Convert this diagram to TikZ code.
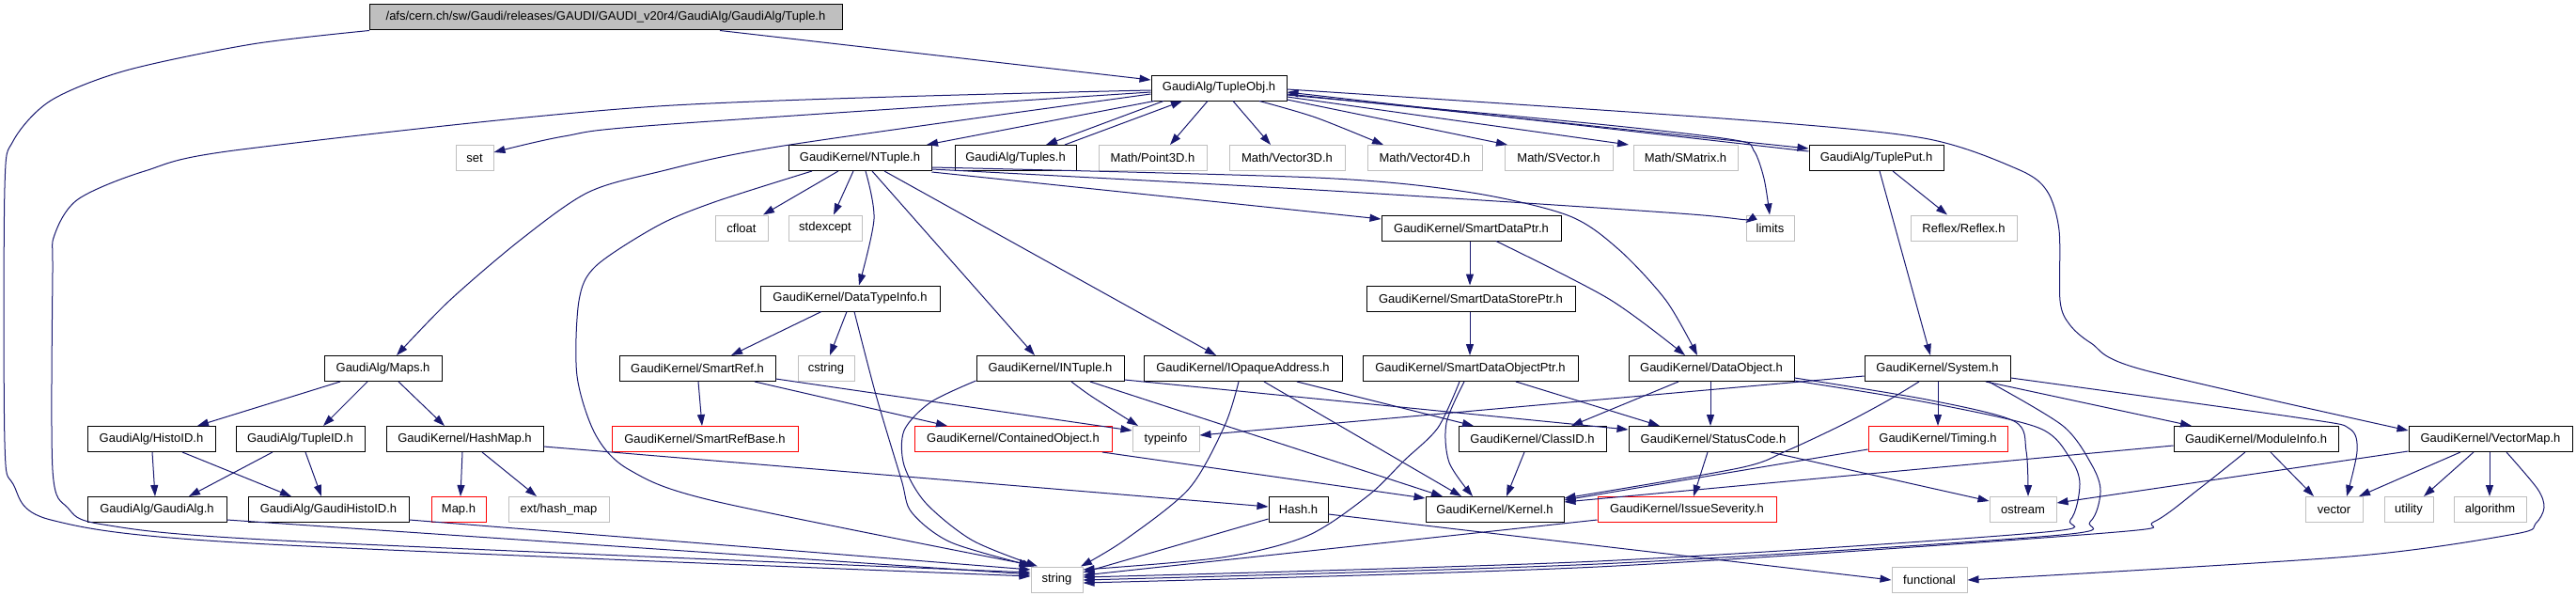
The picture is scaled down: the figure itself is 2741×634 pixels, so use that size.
\documentclass[tikz,border=0pt]{standalone}
\usepackage{fontspec}
\setmainfont{Liberation Sans}
\usetikzlibrary{arrows.meta}
\definecolor{edgec}{RGB}{25,25,112}
\definecolor{grayb}{RGB}{191,191,191}
\definecolor{redb}{RGB}{255,0,0}
\tikzset{
  nb/.style={draw=black, line width=1pt, fill=white, inner sep=0pt, minimum height=27pt, font=\fontsize{13}{15}\selectfont},
  ng/.style={nb, draw=grayb},
  nr/.style={nb, draw=redb},
  root/.style={nb, fill=grayb},
  e/.style={draw=edgec, line width=1pt, -{Triangle[length=12pt,width=8pt]}},
  sm/.style={smooth, tension=0.5}
}
\begin{document}
\begin{tikzpicture}[x=1pt,y=-1pt]
\fill[white] (0,0) rectangle (2741,634);
\useasboundingbox (0,0) rectangle (2741,634);
% row 0
\node[root, minimum width=503pt] (tuple) at (644.5,18.5) {/afs/cern.ch/sw/Gaudi/releases/GAUDI/GAUDI\_v20r4/GaudiAlg/GaudiAlg/Tuple.h};
% row 1
\node[nb, minimum width=144pt] (tupleobj) at (1297,93.5) {GaudiAlg/TupleObj.h};
% row 2
\node[ng, minimum width=40pt] (set) at (505,168) {set};
\node[nb, minimum width=152pt] (ntuple) at (915,168) {GaudiKernel/NTuple.h};
\node[nb, minimum width=129pt] (tuples) at (1080.5,168) {GaudiAlg/Tuples.h};
\node[ng, minimum width=115pt] (point3d) at (1226.5,168) {Math/Point3D.h};
\node[ng, minimum width=123pt] (vector3d) at (1369.5,168) {Math/Vector3D.h};
\node[ng, minimum width=122pt] (vector4d) at (1516,168) {Math/Vector4D.h};
\node[ng, minimum width=115pt] (svector) at (1658.5,168) {Math/SVector.h};
\node[ng, minimum width=111pt] (smatrix) at (1793.5,168) {Math/SMatrix.h};
\node[nb, minimum width=143pt] (tupleput) at (1996.5,168) {GaudiAlg/TuplePut.h};
% row 3
\node[ng, minimum width=56pt] (cfloat) at (789,242.5) {cfloat};
\node[ng, minimum width=78pt] (stdexcept) at (878,242.5) {stdexcept};
\node[nb, minimum width=191pt] (smartdataptr) at (1565.5,242.5) {GaudiKernel/SmartDataPtr.h};
\node[ng, minimum width=51pt] (limits) at (1883.5,242.5) {limits};
\node[ng, minimum width=113pt] (reflex) at (2089.5,242.5) {Reflex/Reflex.h};
% row 4
\node[nb, minimum width=191pt] (datatypeinfo) at (904.5,317.5) {GaudiKernel/DataTypeInfo.h};
\node[nb, minimum width=222pt] (smartdatastoreptr) at (1565,317.5) {GaudiKernel/SmartDataStorePtr.h};
% row 5
\node[nb, minimum width=125pt] (maps) at (407.5,392) {GaudiAlg/Maps.h};
\node[nb, minimum width=166pt] (smartref) at (742,392) {GaudiKernel/SmartRef.h};
\node[ng, minimum width=60pt] (cstring) at (879,392) {cstring};
\node[nb, minimum width=157pt] (intuple) at (1117.5,392) {GaudiKernel/INTuple.h};
\node[nb, minimum width=211pt] (iopaque) at (1322.5,392) {GaudiKernel/IOpaqueAddress.h};
\node[nb, minimum width=229pt] (smartdataobjptr) at (1564.5,392) {GaudiKernel/SmartDataObjectPtr.h};
\node[nb, minimum width=176pt] (dataobject) at (1821,392) {GaudiKernel/DataObject.h};
\node[nb, minimum width=155pt] (system) at (2061.5,392) {GaudiKernel/System.h};
% row 6
\node[nb, minimum width=136pt] (histoid) at (161,467) {GaudiAlg/HistoID.h};
\node[nb, minimum width=137pt] (tupleid) at (319.5,467) {GaudiAlg/TupleID.h};
\node[nb, minimum width=167pt] (hashmap) at (494.5,467) {GaudiKernel/HashMap.h};
\node[nr, minimum width=198pt] (smartrefbase) at (750,467) {GaudiKernel/SmartRefBase.h};
\node[nr, minimum width=210pt] (contained) at (1078,467) {GaudiKernel/ContainedObject.h};
\node[ng, minimum width=71pt] (typeinfo) at (1240.5,467) {typeinfo};
\node[nb, minimum width=157pt] (classid) at (1630.5,467) {GaudiKernel/ClassID.h};
\node[nb, minimum width=180pt] (statuscode) at (1823,467) {GaudiKernel/StatusCode.h};
\node[nr, minimum width=148pt] (timing) at (2062,467) {GaudiKernel/Timing.h};
\node[nb, minimum width=175pt] (moduleinfo) at (2400.5,467) {GaudiKernel/ModuleInfo.h};
\node[nb, minimum width=174pt] (vectormap) at (2650,467) {GaudiKernel/VectorMap.h};
% row 7
\node[nb, minimum width=148pt] (gaudialg) at (167,542) {GaudiAlg/GaudiAlg.h};
\node[nb, minimum width=171pt] (gaudihistoid) at (349.5,542) {GaudiAlg/GaudiHistoID.h};
\node[nr, minimum width=58pt] (map) at (488,542) {Map.h};
\node[ng, minimum width=107pt] (hashext) at (594.5,542) {ext/hash\_map};
\node[nb, minimum width=63pt] (hash) at (1381.5,542) {Hash.h};
\node[nb, minimum width=147pt] (kernel) at (1590.5,542) {GaudiKernel/Kernel.h};
\node[nr, minimum width=190pt] (issue) at (1795,542) {GaudiKernel/IssueSeverity.h};
\node[ng, minimum width=71pt] (ostream) at (2152.5,542) {ostream};
\node[ng, minimum width=61pt] (vector) at (2483.5,542) {vector};
\node[ng, minimum width=52pt] (utility) at (2563,542) {utility};
\node[ng, minimum width=77pt] (algorithm) at (2649.5,542) {algorithm};
% row 8
\node[ng, minimum width=55pt] (string) at (1124.5,616.5) {string};
\node[ng, minimum width=80pt] (functional) at (2053,616.5) {functional};

% ---------- edges ----------
\draw[e] (tuple.south -| 766,0) -- (tupleobj.west |- 0,85);
\draw[e] plot[sm] coordinates {(tuple.south -| 393,0) (268,47) (134,75) (54,107) (14,150) (5,200) (5,470) (14,515) (54,553) (268,578) (string.west |- 0,613)};
\draw[e] plot[sm] coordinates {(tupleobj.west |- 0,96) (700,113) (257,159) (154,182) (83,212) (58,250) (56,290) (56,500) (72,540) (110,558) (300,575) (string.west |- 0,609)};
\draw[e] plot[sm] coordinates {(tupleobj.west |- 0,98) (700,133) (600,145) (set.east |- 0,162)};
\draw[e] plot[sm] coordinates {(tupleobj.west |- 0,100) (834,155) (700,183) (625,205) (554,255) (478,320) (maps.north -| 422,0)};
\draw[e] (tupleobj.south -| 1228,0) -- (ntuple.north -| 986,0);
\draw[e] (tupleobj.south -| 1238,0) -- (tuples.north -| 1113,0);
\draw[e] (tuples.north -| 1133,0) -- (tupleobj.south -| 1258,0);
\draw[e] (tupleobj.south -| 1285,0) -- (point3d.north -| 1245,0);
\draw[e] (tupleobj.south -| 1312,0) -- (vector3d.north -| 1352,0);
\draw[e] plot[sm] coordinates {(tupleobj.south -| 1340,0) (1400,125) (vector4d.north -| 1472,0)};
\draw[e] (tupleobj.east |- 0,106) -- (svector.north -| 1604,0);
\draw[e] (tupleobj.east |- 0,103) -- (smatrix.north -| 1733,0);
\draw[e] (tupleobj.east |- 0,100) -- (tupleput.west |- 0,158);
\draw[e] (tupleput.west |- 0,161) -- (tupleobj.east |- 0,98);
\draw[e] plot[sm] coordinates {(tupleobj.east |- 0,101) (1700,132) (1846,149) (1866,160) (1877,190) (limits.north -| 1883,0)};
\draw[e] plot[sm] coordinates {(tupleobj.east |- 0,95) (1846,127) (2047,147) (2147,180) (2178,203) (2191,245) (2192,320) (2202,345) (2225,365) (2279,393) (vectormap.west |- 0,458)};
% NTuple
\draw[e] (ntuple.south -| 892,0) -- (cfloat.north -| 812,0);
\draw[e] (ntuple.south -| 908,0) -- (stdexcept.north -| 887,0);
\draw[e] plot[sm] coordinates {(ntuple.south -| 921,0) (930,233) (datatypeinfo.north -| 914,0)};
\draw[e] (ntuple.south -| 928,0) -- (intuple.north -| 1101,0);
\draw[e] (ntuple.south -| 941,0) -- (iopaque.north -| 1294,0);
\draw[e] (ntuple.east |- 0,183) -- (smartdataptr.west |- 0,233);
\draw[e] plot[sm] coordinates {(ntuple.east |- 0,180) (1400,202) (1800,228) (limits.west |- 0,237)};
\draw[e] plot[sm] coordinates {(ntuple.east |- 0,178) (1400,189) (1560,204) (1668,229) (1722,265) (1773,320) (dataobject.north -| 1806,0)};
\draw[e] plot[sm] coordinates {(ntuple.south -| 864,0) (760,215) (700,240) (634,283) (616,320) (614,400) (634,463) (670,500) (760,533) (string.west |- 0,601)};
% SmartData chain
\draw[e] (smartdataptr.south -| 1564,0) -- (smartdatastoreptr.north -| 1564,0);
\draw[e] plot[sm] coordinates {(smartdataptr.south -| 1592,0) (1712,318) (dataobject.north -| 1793,0)};
\draw[e] (smartdatastoreptr.south -| 1564,0) -- (smartdataobjptr.north -| 1564,0);
% TuplePut
\draw[e] (tupleput.south -| 2014,0) -- (reflex.north -| 2072,0);
\draw[e] plot[sm] coordinates {(tupleput.south -| 2000,0) (2038,320) (system.north -| 2054,0)};
% DataTypeInfo
\draw[e] (datatypeinfo.south -| 874,0) -- (smartref.north -| 778,0);
\draw[e] (datatypeinfo.south -| 901,0) -- (cstring.north -| 883,0);
\draw[e] plot[sm] coordinates {(datatypeinfo.south -| 909,0) (932,420) (959,510) (970,545) (1012,577) (string.north -| 1100,0)};
% Maps
\draw[e] (maps.south -| 362,0) -- (histoid.north -| 210,0);
\draw[e] (maps.south -| 391,0) -- (tupleid.north -| 344,0);
\draw[e] (maps.south -| 424,0) -- (hashmap.north -| 473,0);
\draw[e] (histoid.south -| 162,0) -- (gaudialg.north -| 165,0);
\draw[e] (histoid.south -| 194,0) -- (gaudihistoid.north -| 310,0);
\draw[e] (tupleid.south -| 290,0) -- (gaudialg.north -| 201,0);
\draw[e] (tupleid.south -| 325,0) -- (gaudihistoid.north -| 342,0);
\draw[e] (hashmap.south -| 492,0) -- (map.north -| 490,0);
\draw[e] (hashmap.south -| 513,0) -- (hashext.north -| 571,0);
\draw[e] (hashmap.east |- 0,475) -- (hash.west |- 0,539);
\draw[e] (gaudialg.east |- 0,553) -- (string.west |- 0,611);
\draw[e] (gaudihistoid.east |- 0,553) -- (string.west |- 0,606);
% SmartRef
\draw[e] (smartref.south -| 743,0) -- (smartrefbase.north -| 747,0);
\draw[e] (smartref.south -| 803,0) -- (contained.north -| 1008,0);
\draw[e] (smartref.east |- 0,403) -- (typeinfo.west |- 0,458);
% INTuple
\draw[e] plot[sm] coordinates {(intuple.west |- 0,405) (990,428) (962,458) (962,495) (985,535) (1035,575) (string.north -| 1104,0)};
\draw[e] plot[sm] coordinates {(intuple.south -| 1140,0) (1162,422) (typeinfo.north -| 1211,0)};
\draw[e] (intuple.south -| 1160,0) -- (kernel.north -| 1535,0);
\draw[e] (intuple.east |- 0,404) -- (statuscode.west |- 0,457);
% IOpaqueAddress
\draw[e] plot[sm] coordinates {(iopaque.south -| 1318,0) (1303,453) (1265,520) (1196,575) (string.north -| 1150,0)};
\draw[e] (iopaque.south -| 1345,0) -- (kernel.north -| 1555,0);
\draw[e] (iopaque.south -| 1380,0) -- (classid.north -| 1568,0);
% SmartDataObjectPtr
\draw[e] plot[sm] coordinates {(smartdataobjptr.south -| 1558,0) (1539,450) (1542,492) (kernel.north -| 1567,0)};
\draw[e] plot[sm] coordinates {(smartdataobjptr.south -| 1553,0) (1530,455) (1494,490) (1456,527) (1391,570) (1300,593) (string.east |- 0,606)};
\draw[e] (smartdataobjptr.south -| 1613,0) -- (statuscode.north -| 1766,0);
% DataObject
\draw[e] (dataobject.south -| 1786,0) -- (classid.north -| 1672,0);
\draw[e] (dataobject.south -| 1820,0) -- (statuscode.north -| 1820,0);
\draw[e] plot[sm] coordinates {(dataobject.east |- 0,402) (2050,425) (2143,448) (2156,480) (ostream.north -| 2158,0)};
\draw[e] plot[sm] coordinates {(dataobject.east |- 0,405) (2050,428) (2169,455) (2203,488) (2213,515) (2203,553) (2165,567) (1700,597) (string.east |- 0,614)};
% System
\draw[e] (system.west |- 0,400) -- (typeinfo.east |- 0,463);
\draw[e] (system.south -| 2062,0) -- (timing.north -| 2062,0);
\draw[e] plot[sm] coordinates {(system.south -| 2042,0) (2007,427) (1960,452) (1900,480) (1850,498) (kernel.east |- 0,530)};
\draw[e] (system.south -| 2113,0) -- (moduleinfo.north -| 2332,0);
\draw[e] plot[sm] coordinates {(system.east |- 0,402) (2450,445) (2500,456) (2508,480) (vector.north -| 2497,0)};
\draw[e] plot[sm] coordinates {(system.south -| 2116,0) (2195,453) (2226,495) (2235,523) (2224,555) (2182,570) (1700,600) (string.east |- 0,617)};
% StatusCode, ClassID, ContainedObject, Timing
\draw[e] (statuscode.south -| 1817,0) -- (issue.north -| 1802,0);
\draw[e] (statuscode.south -| 1884,0) -- (ostream.west |- 0,533);
\draw[e] (classid.south -| 1622,0) -- (kernel.north -| 1603,0);
\draw[e] (contained.south -| 1173,0) -- (kernel.west |- 0,530);
\draw[e] (timing.west |- 0,478) -- (kernel.east |- 0,532);
% ModuleInfo
\draw[e] (moduleinfo.west |- 0,474) -- (kernel.east |- 0,534);
\draw[e] (moduleinfo.south -| 2416,0) -- (vector.north -| 2462,0);
\draw[e] plot[sm] coordinates {(moduleinfo.south -| 2389,0) (2340,520) (2292,555) (2240,567) (1700,603) (string.east |- 0,620)};
% VectorMap
\draw[e] (vectormap.west |- 0,480) -- (ostream.east |- 0,535);
\draw[e] (vectormap.south -| 2618,0) -- (vector.north -| 2510,0);
\draw[e] (vectormap.south -| 2632,0) -- (utility.north -| 2579,0);
\draw[e] (vectormap.south -| 2649,0) -- (algorithm.north -| 2649,0);
\draw[e] plot[sm] coordinates {(vectormap.south -| 2667,0) (2700,520) (2707,540) (2698,557) (2676,568) (2500,592) (functional.east |- 0,617)};
% Hash, IssueSeverity
\draw[e] (hash.west |- 0,552) -- (string.east |- 0,609);
\draw[e] (hash.east |- 0,547) -- (functional.west |- 0,617);
\draw[e] (issue.west |- 0,553) -- (string.east |- 0,612);
\end{tikzpicture}
\end{document}
